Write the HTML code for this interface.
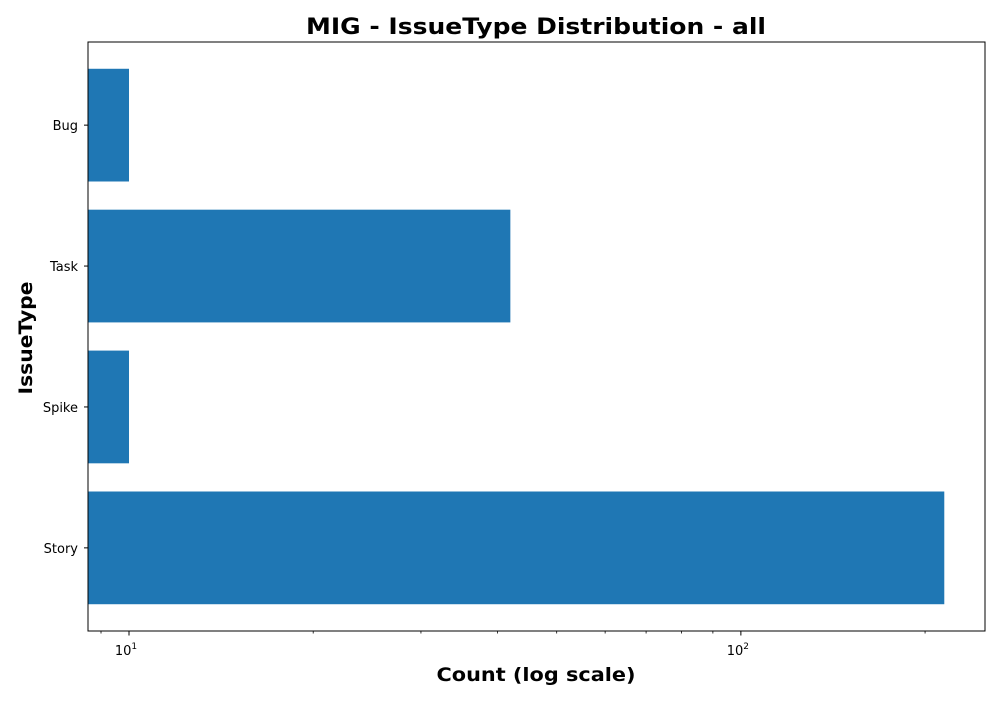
<!DOCTYPE html>
<html><head><meta charset="utf-8"><style>
html,body{margin:0;padding:0;background:#fff}
svg text{font-family:"DejaVu Sans","Liberation Sans",sans-serif}
</style></head><body>
<svg id="chart" width="1000" height="700" xmlns="http://www.w3.org/2000/svg">
<rect width="1000" height="700" fill="#fff"/>
<text x="536" y="34" text-anchor="middle" font-size="22" font-weight="bold" textLength="460" lengthAdjust="spacingAndGlyphs">MIG - IssueType Distribution - all</text>
<text x="536" y="681" text-anchor="middle" font-size="19" font-weight="bold" textLength="199" lengthAdjust="spacingAndGlyphs">Count (log scale)</text>
<text transform="translate(32,338) rotate(-90)" text-anchor="middle" font-size="19" font-weight="bold" textLength="113" lengthAdjust="spacingAndGlyphs">IssueType</text>
<g id="bars"></g><g id="axes"></g>
</svg>
<script>
const categories = ["Bug","Task","Spike","Story"];
const counts = [10, 42, 10, 215];
const majorTicks = [10, 100];
const majorTickLabels = ["1", "2"];
const minorTicks = [9,20,30,40,50,60,70,80,90,200];

const L=88,R=985,T=42,B=631;
const logMin=Math.log10(8.57), logMax=Math.log10(250.6);
function x(v){return L+(Math.log10(v)-logMin)/(logMax-logMin)*(R-L);}
const n=categories.length;
const unit=(B-T)/(n-1+0.8+0.38);
function yc(i){return T+unit*(0.59+i);}
const NS="http://www.w3.org/2000/svg";
function mk(tag,attrs,parent){const e=document.createElementNS(NS,tag);for(const k in attrs)e.setAttribute(k,attrs[k]);parent.appendChild(e);return e;}
const bars=document.getElementById('bars'), axes=document.getElementById('axes');
const bh=unit*0.8;
categories.forEach((c,i)=>{
  const r=mk('rect',{x:L,y:yc(i)-bh/2,width:Math.max(0,x(counts[i])-L),height:bh,fill:'#1f77b4'},bars);
  
  
  const t=mk('line',{x1:L-4,x2:L,y1:yc(i),y2:yc(i),stroke:'#000','stroke-width':1},axes);
  
  
  const tl=mk('text',{x:L-10,y:yc(i)+5,'text-anchor':'end','font-size':13},axes);
  tl.textContent=c;
  
  
});
const fr=mk('rect',{x:L,y:T,width:R-L,height:B-T,fill:'none',stroke:'#000','stroke-width':1},axes);


minorTicks.forEach(v=>{
  const px=x(v); if(px<L||px>R)return;
  const t=mk('line',{x1:px,x2:px,y1:B,y2:B+2.5,stroke:'#000','stroke-width':0.8},axes);
  
  
});
majorTicks.forEach((v,i)=>{
  const px=x(v);
  const t=mk('line',{x1:px,x2:px,y1:B,y2:B+4.5,stroke:'#000','stroke-width':1},axes);
  
  
  const tl=mk('text',{x:px-3,y:B+24,'text-anchor':'middle','font-size':13},axes);
  tl.textContent='10';
  const s=mk('tspan',{dy:-6,'font-size':9},tl);
  s.textContent=majorTickLabels[i];
  
  
});
</script>
</body></html>
